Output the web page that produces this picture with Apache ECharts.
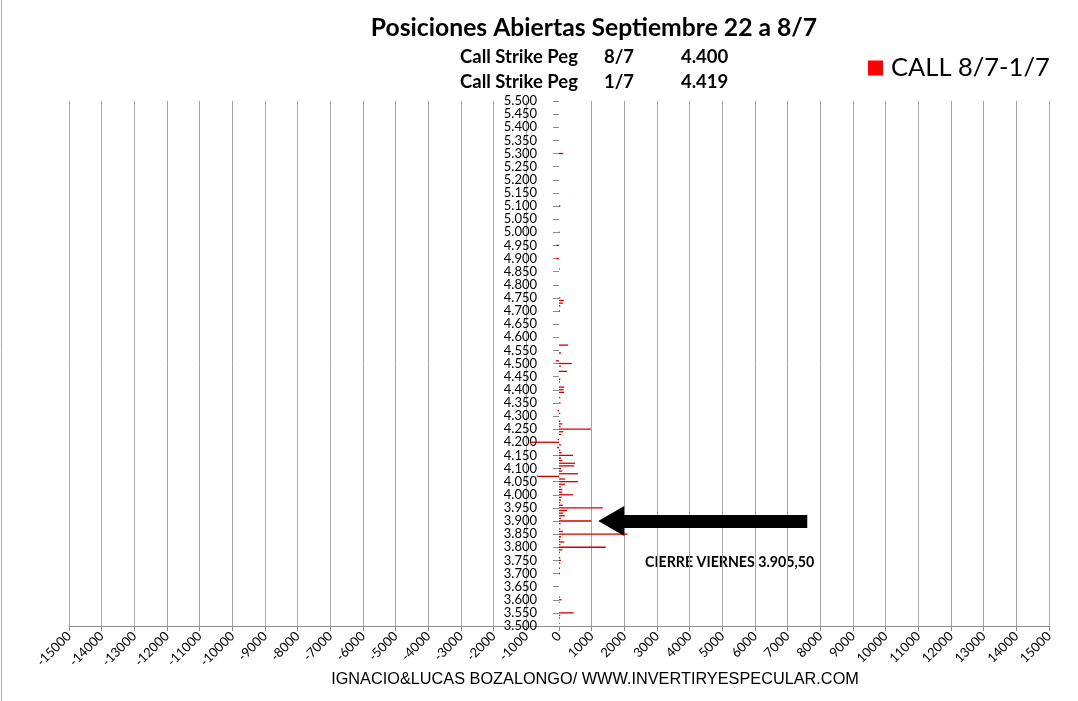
<!DOCTYPE html>
<html>
<head>
<meta charset="utf-8">
<script src="https://cdn.jsdelivr.net/npm/echarts@6/dist/echarts.min.js"></script>
<style>
html,body{margin:0;padding:0;background:#fff;}
#c{width:1078px;height:701px;}
</style>
</head>
<body>
<div id="c"></div>
<script>
// Strike range (10-point steps) and open positions
var strikeMin = 3500, strikeMax = 5500, strikeStep = 10;
var strikes = [5300,5100,5000,4950,4900,4860,4750,4740,4730,4720,4700,4570,4540,4510,4500,4490,4470,4440,4430,4410,4400,4390,4370,4350,4320,4310,
  4280,4270,4260,4250,4240,4230,4210,4200,4190,4180,4170,4160,4150,4140,4130,4120,4110,4100,4090,4080,4070,4060,4050,4040,4030,4020,4010,4000,3990,
  3980,3970,3960,3950,3940,3930,3920,3910,3900,3890,3870,3860,3850,3840,3830,3820,3810,3800,3790,3780,3760,3750,3740,3720,3700,3610,3600,3590,3550,3540,3530,3510];
var values = [130,40,20,-80,-80,20,40,150,120,40,30,280,60,-100,390,60,250,40,30,160,140,160,40,50,-40,40,
  40,100,50,980,130,60,-40,-890,60,-60,40,80,430,60,100,490,460,60,100,580,-670,190,580,190,60,100,100,430,80,
  60,40,120,1340,250,130,180,60,990,50,40,120,2100,60,40,160,40,1430,100,30,40,60,40,30,30,30,80,20,450,40,30,20];
var xTickMin = -15000, xTickMax = 15000, xTickStep = 1000;
var seriesName = 'CALL 8/7-1/7';
var titleText = 'Posiciones Abiertas Septiembre 22 a 8/7';
var pegRows = [['Call Strike Peg','8/7','4.400'],['Call Strike Peg','1/7','4.419']];
var closeText = 'CIERRE VIERNES 3.905,50';
var closeStrike = 3900;
var arrowFrom = 7600, arrowTo = 1600;
var footer = 'IGNACIO&LUCAS BOZALONGO/ WWW.INVERTIRYESPECULAR.COM';

var categories = [];
for (var s = strikeMin; s <= strikeMax; s += strikeStep) categories.push(String(s));
var lookup = {};
strikes.forEach(function(k, i){ lookup[k] = values[i]; });
var barData = categories.map(function(c){ var v = lookup[+c]; return v === undefined ? 0 : v; });

function fmtStrike(v){ var n = +v; return Math.floor(n/1000) + '.' + String(n%1000).padStart(3,'0'); }

var gridLeft = 69, gridRight = 29;
var plotW = 1078 - gridLeft - gridRight;
var zeroX = gridLeft + plotW * (0 - xTickMin) / (xTickMax - xTickMin);

var chart = echarts.init(document.getElementById('c'), null, {renderer:'canvas'});
var graphics = [
  {type:'line', shape:{x1:1.5,y1:0,x2:1.5,y2:701}, style:{stroke:'#a6a6a6', lineWidth:1}},
  {type:'text', x:594, y:28, style:{text:titleText, font:'bold 24.7px Lato', fill:'#000', textAlign:'center', textVerticalAlign:'middle'}}
];
pegRows.forEach(function(r, i){
  var y = 57 + i*25;
  graphics.push({type:'text', x:460, y:y, style:{text:r[0], font:'bold 18.5px Lato', fill:'#000', textVerticalAlign:'middle'}});
  graphics.push({type:'text', x:604, y:y, style:{text:r[1], font:'bold 18.5px Lato', fill:'#000', textVerticalAlign:'middle'}});
  graphics.push({type:'text', x:681, y:y, style:{text:r[2], font:'bold 18.5px Lato', fill:'#000', textVerticalAlign:'middle'}});
});
graphics.push({type:'text', x:645, y:562, style:{text:closeText, font:'bold 14.2px Lato', fill:'#000', textVerticalAlign:'middle'}});
graphics.push({type:'text', x:595, y:680, style:{text:footer, font:'16.3px "Liberation Sans"', fill:'#000', textAlign:'center', textVerticalAlign:'middle'}});

chart.setOption({
  animation:false,
  backgroundColor:'#fff',
  grid:{left:gridLeft, right:gridRight, top:101, bottom:75, containLabel:false},
  legend:{
    data:[seriesName], left:863, top:50, icon:'rect', itemWidth:15, itemHeight:15, itemGap:8,
    itemStyle:{color:'#ff0000'},
    textStyle:{fontFamily:'Lato', fontSize:25.5, color:'#000', padding:[0,0,0,3]}
  },
  xAxis:{
    type:'value', min:xTickMin, max:xTickMax, interval:xTickStep,
    axisLine:{show:true, lineStyle:{color:'#8c8c8c', width:1}},
    axisTick:{show:true, length:5, lineStyle:{color:'#8c8c8c'}},
    splitLine:{show:true, lineStyle:{color:'#a6a6a6', width:1}},
    axisLabel:{rotate:45, fontFamily:'Lato', fontSize:13, color:'#000', margin:8, formatter:function(v){return String(v);}}
  },
  yAxis:{
    type:'category', data:categories, boundaryGap:false,
    axisLine:{show:true, onZero:true, lineStyle:{color:'#ffffff', width:1}},
    axisTick:{show:true, interval:4, length:6, inside:false, lineStyle:{color:'#8c8c8c'}},
    axisLabel:{interval:4, formatter:fmtStrike, fontFamily:'Lato', fontSize:13, color:'#000', margin:22 - (zeroX - gridLeft)},
    splitLine:{show:false}
  },
  series:[{
    name:seriesName, type:'bar', data:barData, barWidth:1.3,
    itemStyle:{color:'#d00000'},
    markLine:{
      silent:true, symbol:['none','triangle'], symbolSize:[30,26],
      label:{show:false},
      lineStyle:{color:'#000', width:13, type:'solid'},
      data:[[{coord:[arrowFrom, String(closeStrike)]},{coord:[arrowTo, String(closeStrike)]}]]
    }
  }],
  graphic:graphics
});
</script>
</body>
</html>
